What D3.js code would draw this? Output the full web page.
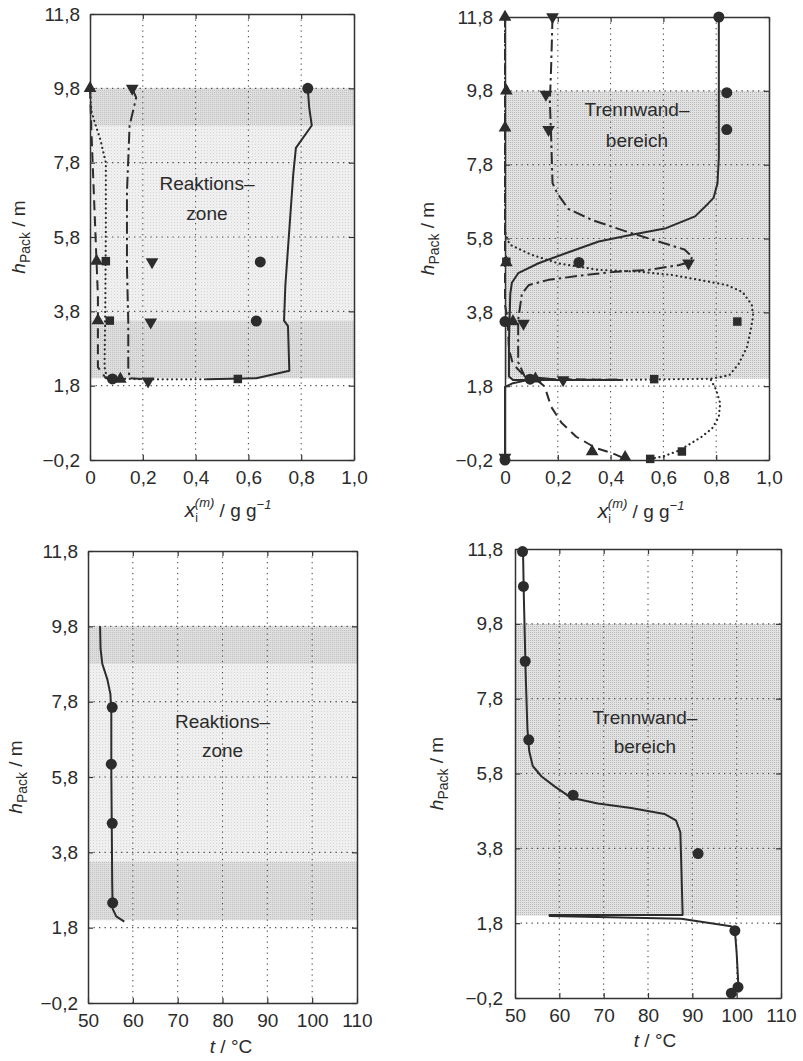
<!DOCTYPE html>
<html>
<head>
<meta charset="utf-8">
<script src="https://cdn.jsdelivr.net/npm/d3@7"></script>
<style>
  html, body { margin: 0; padding: 0; background: #fff; }
  svg { display: block; font-family: "Liberation Sans", Arial, Helvetica, sans-serif; }
</style>
</head>
<body>
<svg id="fig" width="803" height="1061"></svg>
<script>
// ---- axis ticks ----
const heightTicks = [-0.2, 1.8, 3.8, 5.8, 7.8, 9.8, 11.8];
const fractionTicks = [0, 0.2, 0.4, 0.6, 0.8, 1.0];
const temperatureTicks = [50, 60, 70, 80, 90, 100, 110];

// ---- Reaktionszone: mass fractions [x, h] (simulation lines, null = break) ----
const rzCircleLine = [[0.825,9.8],[0.83,9.3],[0.84,8.8],[0.78,8.2],[0.77,7.5],[0.76,6.5],[0.75,5.5],[0.74,4.5],[0.735,3.55],[0.75,3.4],[0.755,2.2],[0.63,2.0],[0.44,1.97]];
const rzTriUpLine = [[0,9.8],[0.004,8.9],[0.01,7.8],[0.02,6.0],[0.03,4.2],[0.03,2.3],[0.06,2.0],[0.1,1.98]];
const rzTriDownLine = [[0.16,9.8],[0.175,9.55],[0.15,8.8],[0.14,7.0],[0.14,5.0],[0.145,3.5],[0.145,2.3],[0.15,2.0],[0.22,1.97]];
const rzSquareLine = [[0,9.8],[0.005,9.2],[0.015,8.95],[0.04,8.4],[0.06,7.8],[0.06,6.0],[0.058,4.0],[0.055,2.3],[0.065,2.0],[0.2,1.97],[0.44,1.97]];
// measured points
const rzCircles = [[0.825,9.8],[0.645,5.13],[0.63,3.54],[0.085,1.98]];
const rzTriUps = [[0,9.8],[0.025,5.15],[0.03,3.55],[0.115,1.98]];
const rzTriDowns = [[0.16,9.8],[0.235,5.13],[0.23,3.51],[0.22,1.92]];
const rzSquares = [[0.06,5.15],[0.075,3.55],[0.56,1.98]];

// ---- Trennwandbereich: mass fractions ----
const twCircleLine = [[0.81,11.8],[0.81,8.0],[0.805,7.3],[0.79,6.9],[0.77,6.75],[0.72,6.4],[0.61,6.08],[0.48,5.9],[0.355,5.72],[0.23,5.4],[0.127,5.13],[0.05,4.86],[0.026,4.6],[0.02,4.3],[0.015,3.0],[0.015,2.06],[0.03,1.97],[0.44,1.97],
  null,[0.09,1.97],[0.03,1.88],[0,1.78],[0,-0.2]];
const twTriUpLine = [[0,11.8],[0,4.0],[0.01,3.6],[0.015,2.8],[0.03,2.4],[0.07,2.1],[0.12,2.0],[0.44,1.97],
  null,[0.12,1.97],[0.15,1.79],[0.175,1.24],[0.215,0.8],[0.27,0.43],[0.345,0.12],[0.405,-0.01],[0.45,-0.15]];
const twTriDownLine = [[0.18,11.8],[0.175,10.5],[0.17,9.5],[0.175,8.5],[0.18,7.3],[0.2,7.0],[0.24,6.6],[0.33,6.3],[0.455,6.0],[0.58,5.72],[0.68,5.5],[0.71,5.3],[0.695,5.15],[0.66,5.08],[0.545,4.95],[0.42,4.9],[0.29,4.8],[0.165,4.68],[0.09,4.54],[0.064,4.3],[0.05,3.6],[0.05,2.45],[0.075,2.06],[0.2,1.98],[0.44,1.97]];
const twSquareLine = [[0,11.8],[0,6.0],[0.01,5.75],[0.02,5.63],[0.1,5.36],[0.2,5.13],[0.355,4.95],[0.51,4.9],[0.635,4.81],[0.735,4.68],[0.84,4.54],[0.9,4.35],[0.935,4.0],[0.94,3.7],[0.93,3.3],[0.917,2.87],[0.885,2.4],[0.85,2.1],[0.78,2.0],[0.44,1.97],
  null,[0.78,1.97],[0.8,1.7],[0.815,1.34],[0.81,0.97],[0.785,0.66],[0.745,0.43],[0.695,0.21],[0.65,0.03],[0.6,-0.1],[0.55,-0.17]];
const twCircles = [[0.81,11.8],[0.84,9.75],[0.84,8.75],[0.28,5.15],[0,3.55],[0.095,1.99],[0,-0.2]];
const twTriUps = [[0,11.8],[0.005,9.8],[0,8.8],[0.005,5.15],[0.03,3.55],[0.115,2.0],[0.33,0.03],[0.455,-0.13]];
const twTriDowns = [[0.18,11.8],[0.155,9.7],[0.165,8.75],[0.695,5.13],[0.07,3.5],[0.22,1.97],[0,-0.13]];
const twSquares = [[0.005,5.17],[0.88,3.55],[0.565,1.99],[0.67,0.03],[0.55,-0.17]];

// ---- temperatures [t, h] ----
const rzTempLine = [[52.7,9.8],[52.8,9.2],[53.2,8.8],[54.3,8.4],[55.0,8.0],[55.2,7.5],[55.2,6.0],[55.3,4.5],[55.4,3.0],[55.5,2.3],[56.3,2.1],[58.1,1.96]];
const rzTempPoints = [[55.4,7.65],[55.2,6.14],[55.4,4.57],[55.5,2.46]];
const twTempLine = [[51.8,11.8],[52.0,10.5],[52.4,8.5],[52.8,7.0],[53.2,6.4],[54.0,6.0],[56.0,5.72],[59.0,5.45],[62.7,5.15],[68.7,5.0],[76.2,4.88],[83.7,4.72],[86.3,4.55],[87.3,4.23],[87.5,3.4],[87.8,2.08],[87.8,2.02],[57.8,2.02],[57.8,1.99],[87.5,1.92],[98.7,1.72],[99.6,1.6],[100.0,1.0],[100.4,0.1]];
const twTempPoints = [[51.7,11.73],[51.9,10.8],[52.3,8.8],[53.1,6.7],[63.1,5.22],[91.3,3.66],[99.6,1.6],[100.3,0.09],[98.8,-0.07]];

// ---- formatting (German decimal comma) ----
const de = d3.formatLocale({ decimal: ",", thousands: ".", grouping: [3], currency: ["", " €"], minus: "\u2212" });
const f1 = de.format(".1f");
const fracFormat = d => d === 0 ? "0" : f1(d);
const tempFormat = d => String(d);

const INK = "#2c2c2c";
const svg = d3.select("#fig");
const defs = svg.append("defs");

function stipple(id, bg, dot, step) {
  const p = defs.append("pattern").attr("id", id)
    .attr("patternUnits", "userSpaceOnUse").attr("width", step).attr("height", step);
  p.append("rect").attr("width", step).attr("height", step).attr("fill", bg);
  p.append("rect").attr("width", 1).attr("height", 1).attr("fill", dot);
}
stipple("lightZone", "#efefef", "#d6d6d6", 3);
stipple("darkZone", "#dedede", "#c2c2c2", 2);
stipple("wallZone", "#e2e2e2", "#b9b9b9", 2);

const lineStyles = {
  circle:   { dash: null,          width: 2.0, cap: "butt" },
  triUp:    { dash: "10,6",        width: 2.0, cap: "butt" },
  triDown:  { dash: "12,4,2.5,4",  width: 2.0, cap: "butt" },
  square:   { dash: "0.1,4.6",     width: 2.2, cap: "round" }
};
const symbolOf = {
  circle:  { type: d3.symbolCircle,   size: 95, rot: 0 },
  triUp:   { type: d3.symbolTriangle, size: 70, rot: 0 },
  triDown: { type: d3.symbolTriangle, size: 70, rot: 180 },
  square:  { type: d3.symbolSquare,   size: 72, rot: 0 }
};

function panel(cfg) {
  const g = svg.append("g");
  const x = d3.scaleLinear().domain(cfg.xDomain).range([cfg.x0, cfg.x1]);
  const y = d3.scaleLinear().domain([-0.2, 11.8]).range([cfg.y1, cfg.y0]);

  // shaded packing / column sections
  cfg.zones.forEach(z => {
    g.append("rect")
      .attr("x", cfg.x0).attr("width", cfg.x1 - cfg.x0)
      .attr("y", y(z.top)).attr("height", y(z.bottom) - y(z.top))
      .attr("fill", `url(#${z.fill})`);
  });

  // dotted grid
  const grid = g.append("g").attr("stroke", "#4d4d4d").attr("stroke-width", 1.1)
    .attr("stroke-dasharray", "1.3,4.2").attr("fill", "none");
  cfg.xTicks.slice(1, -1).forEach(t => grid.append("line")
    .attr("x1", x(t)).attr("x2", x(t)).attr("y1", cfg.y0).attr("y2", cfg.y1));
  heightTicks.slice(1, -1).forEach(t => grid.append("line")
    .attr("x1", cfg.x0).attr("x2", cfg.x1).attr("y1", y(t)).attr("y2", y(t)));

  // simulation lines
  const line = d3.line().defined(d => d !== null).x(d => x(d[0])).y(d => y(d[1]));
  cfg.lines.forEach(s => {
    const st = lineStyles[s.kind];
    g.append("path").datum(s.data)
      .attr("d", line).attr("fill", "none")
      .attr("stroke", INK).attr("stroke-width", st.width)
      .attr("stroke-linecap", st.cap).attr("stroke-linejoin", "round")
      .attr("stroke-dasharray", st.dash);
  });

  // axes with inward ticks (frame)
  const styleAxis = sel => {
    sel.attr("font-family", null).attr("font-size", null);
    sel.select(".domain").attr("stroke", "#333").attr("stroke-width", 1.5);
    sel.selectAll(".tick line").attr("stroke", "#333").attr("stroke-width", 1.2);
    sel.selectAll(".tick text").attr("fill", "#2b2b2b").style("font-size", "19px");
  };
  g.append("g").attr("transform", `translate(0,${cfg.y1})`)
    .call(d3.axisBottom(x).tickValues(cfg.xTicks).tickFormat(cfg.xFormat).tickSize(-5).tickSizeOuter(0).tickPadding(11))
    .call(styleAxis);
  g.append("g").attr("transform", `translate(0,${cfg.y0})`)
    .call(d3.axisTop(x).tickValues(cfg.xTicks).tickFormat("").tickSize(-5).tickSizeOuter(0))
    .call(styleAxis);
  g.append("g").attr("transform", `translate(${cfg.x0},0)`)
    .call(d3.axisLeft(y).tickValues(heightTicks).tickFormat(f1).tickSize(-5).tickSizeOuter(0).tickPadding(cfg.yPad))
    .call(styleAxis);
  g.append("g").attr("transform", `translate(${cfg.x1},0)`)
    .call(d3.axisRight(y).tickValues(heightTicks).tickFormat("").tickSize(-5).tickSizeOuter(0))
    .call(styleAxis);

  // measured points
  cfg.marks.forEach(m => {
    const s = symbolOf[m.kind];
    g.append("g").selectAll("path").data(m.data).join("path")
      .attr("transform", d => `translate(${x(d[0])},${y(d[1])}) rotate(${s.rot})`)
      .attr("d", d3.symbol().type(s.type).size(s.size))
      .attr("fill", INK);
  });

  // zone caption
  cfg.caption.forEach(c => {
    g.append("text").attr("x", x(cfg.captionX)).attr("y", y(c[1]))
      .attr("text-anchor", "middle").attr("fill", "#2b2b2b")
      .style("font-size", "19px").text(c[0]);
  });

  // y axis title: h_Pack / m
  const yt = g.append("text")
    .attr("transform", `translate(${cfg.yTitleX},${(cfg.y0 + cfg.y1) / 2}) rotate(-90)`)
    .attr("text-anchor", "middle").attr("fill", "#2b2b2b").style("font-size", "19px");
  yt.append("tspan").style("font-style", "italic").text("h");
  yt.append("tspan").style("font-size", "14px").attr("dy", 5).text("Pack");
  yt.append("tspan").attr("dy", -5).text(" / m");

  // x axis title
  const xt = g.append("text")
    .attr("x", cfg.xTitle[0]).attr("y", cfg.xTitle[1])
    .attr("text-anchor", "middle").attr("fill", "#2b2b2b").style("font-size", "19px");
  if (cfg.xTitleKind === "fraction") {
    xt.append("tspan").style("font-style", "italic").style("font-size", "21px").text("x");
    xt.append("tspan").style("font-size", "12px").attr("dy", 5).text("i");
    xt.append("tspan").style("font-size", "13px").style("font-style", "italic").attr("dx", -3).attr("dy", -15).text("(m)");
    xt.append("tspan").attr("dy", 10).text(" / g g");
    xt.append("tspan").style("font-size", "13px").style("font-style", "italic").attr("dy", -8).text("\u22121");
  } else {
    xt.append("tspan").style("font-style", "italic").text("t");
    xt.append("tspan").text(" / °C");
  }
}

const packZones = [
  { bottom: 2.0, top: 9.8, fill: "lightZone" },
  { bottom: 8.8, top: 9.8, fill: "darkZone" },
  { bottom: 2.0, top: 3.55, fill: "darkZone" }
];
const wallZones = [{ bottom: 2.0, top: 9.8, fill: "wallZone" }];

panel({
  x0: 90, x1: 354, y0: 14, y1: 460, xDomain: [0, 1], xTicks: fractionTicks, xFormat: fracFormat,
  zones: packZones, yPad: 10, yTitleX: 25, xTitle: [228, 517], xTitleKind: "fraction",
  lines: [
    { kind: "square", data: rzSquareLine }, { kind: "triUp", data: rzTriUpLine },
    { kind: "triDown", data: rzTriDownLine }, { kind: "circle", data: rzCircleLine }
  ],
  marks: [
    { kind: "circle", data: rzCircles }, { kind: "triUp", data: rzTriUps },
    { kind: "triDown", data: rzTriDowns }, { kind: "square", data: rzSquares }
  ],
  captionX: 0.443, caption: [["Reaktions\u2013", 7.07], ["zone", 6.27]]
});

panel({
  x0: 505, x1: 769, y0: 17, y1: 460, xDomain: [0, 1], xTicks: fractionTicks, xFormat: fracFormat,
  zones: wallZones, yPad: 12, yTitleX: 434, xTitle: [641, 518], xTitleKind: "fraction",
  lines: [
    { kind: "square", data: twSquareLine }, { kind: "triUp", data: twTriUpLine },
    { kind: "triDown", data: twTriDownLine }, { kind: "circle", data: twCircleLine }
  ],
  marks: [
    { kind: "circle", data: twCircles }, { kind: "triUp", data: twTriUps },
    { kind: "triDown", data: twTriDowns }, { kind: "square", data: twSquares }
  ],
  captionX: 0.5, caption: [["Trennwand\u2013", 9.12], ["bereich", 8.28]]
});

panel({
  x0: 88, x1: 357, y0: 551, y1: 1003, xDomain: [50, 110], xTicks: temperatureTicks, xFormat: tempFormat,
  zones: packZones, yPad: 10, yTitleX: 22, xTitle: [231, 1053], xTitleKind: "temperature",
  lines: [{ kind: "circle", data: rzTempLine }],
  marks: [{ kind: "circle", data: rzTempPoints }],
  captionX: 80, caption: [["Reaktions\u2013", 7.1], ["zone", 6.33]]
});

panel({
  x0: 515, x1: 781, y0: 549, y1: 998, xDomain: [50, 110], xTicks: temperatureTicks, xFormat: tempFormat,
  zones: wallZones, yPad: 12, yTitleX: 443, xTitle: [655, 1047], xTitleKind: "temperature",
  lines: [{ kind: "circle", data: twTempLine }],
  marks: [{ kind: "circle", data: twTempPoints }],
  captionX: 79.3, caption: [["Trennwand\u2013", 7.12], ["bereich", 6.35]]
});
</script>
</body>
</html>
